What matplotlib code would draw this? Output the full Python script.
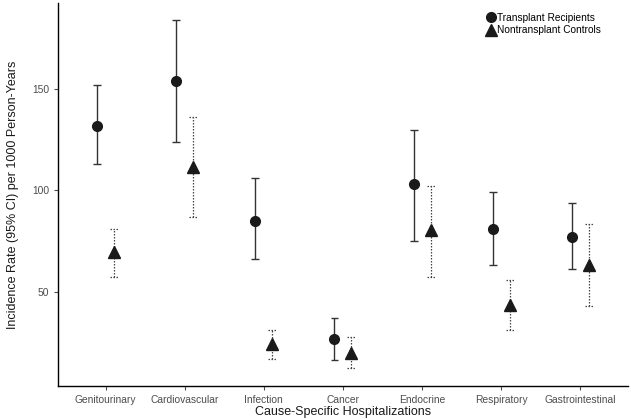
import matplotlib
matplotlib.use("Agg")
import matplotlib.pyplot as plt
import numpy as np

plt.rcParams['font.family'] = ['Liberation Sans', 'DejaVu Sans']

categories = ["Genitourinary", "Cardiovascular", "Infection", "Cancer",
              "Endocrine", "Respiratory", "Gastrointestinal"]

tx_rate = [132, 154, 85, 26.4, 103, 81, 77]
tx_low = [113, 124, 66, 16.4, 75, 63.3, 61]
tx_high = [152, 184, 106, 37, 130, 99, 94]

ctl_rate = [69.5, 111.5, 24.4, 19.8, 80.3, 43.6, 63.3]
ctl_low = [57, 87, 17, 12.4, 57, 31, 43]
ctl_high = [81, 136, 31, 27.5, 102, 56, 83.3]

fig = plt.figure(figsize=(6.31, 4.19), dpi=100)
ax = fig.add_axes([0.092, 0.079, 0.903, 0.914])

x = np.arange(1, len(categories) + 1)
off = 0.107
cap = 0.05

# transplant recipients: solid error bars
ax.vlines(x - off, tx_low, tx_high, color='#333333', linewidth=1.0)
ax.hlines(tx_low, x - off - cap, x - off + cap, color='#333333', linewidth=1.0)
ax.hlines(tx_high, x - off - cap, x - off + cap, color='#333333', linewidth=1.0)
ax.plot(x - off, tx_rate, 'o', color='#1a1a1a', markersize=7, zorder=3,
        label='Transplant Recipients')

# controls: dotted error bars
dot = (0, (1.2, 1.2))
ax.vlines(x + off, ctl_low, ctl_high, color='#444444', linewidth=0.9, linestyles=[dot])
ax.hlines(ctl_low, x + off - cap, x + off + cap, color='#444444', linewidth=0.9, linestyles=[dot])
ax.hlines(ctl_high, x + off - cap, x + off + cap, color='#444444', linewidth=0.9, linestyles=[dot])
ax.plot(x + off, ctl_rate, '^', color='#1a1a1a', markersize=8.5, zorder=3,
        label='Nontransplant Controls')

ax.set_xlim(0.4, 7.6)
ax.set_ylim(3.5, 192.5)
ax.set_xticks(x)
ax.set_xticklabels(categories)
ax.set_yticks([50, 100, 150])

for s in ['top', 'right']:
    ax.spines[s].set_visible(False)
for s in ['left', 'bottom']:
    ax.spines[s].set_color('black')
    ax.spines[s].set_linewidth(1.0)

ax.tick_params(axis='both', colors='#4d4d4d', labelsize=7.4, length=3, width=0.8)

ax.set_xlabel('Cause-Specific Hospitalizations', fontsize=9, labelpad=1, color='#1a1a1a')
ax.set_ylabel('Incidence Rate (95% CI) per 1000 Person-Years', fontsize=9, labelpad=9,
              color='#1a1a1a')

ax.legend(loc='upper left', bbox_to_anchor=(0.737, 0.993), frameon=False, fontsize=7.3,
          handletextpad=0.0, handlelength=1.2, labelspacing=0.25, borderaxespad=0.3)

fig.savefig('out.png', dpi=100)
